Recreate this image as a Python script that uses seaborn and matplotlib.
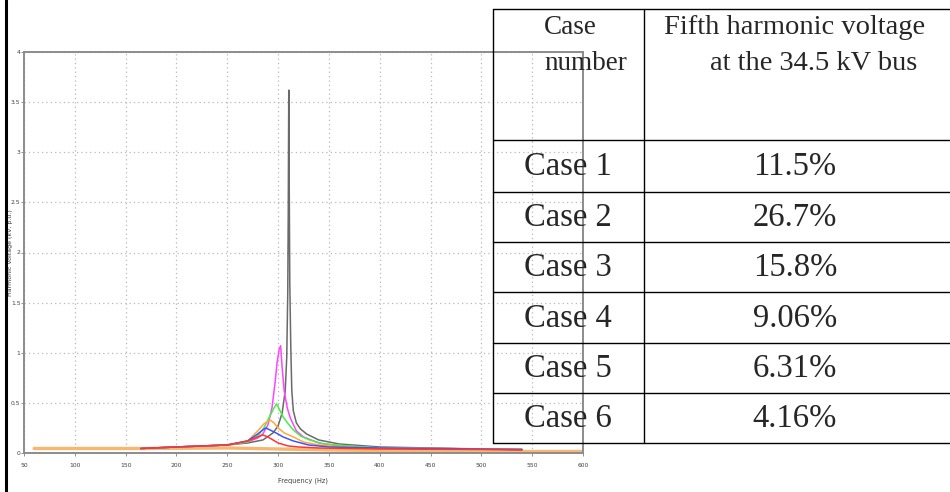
import numpy as np
import pandas as pd
import seaborn as sns
import matplotlib
matplotlib.use('Agg')
import matplotlib.pyplot as plt

# resonance curves (Hz, voltage)
gray_f = [165, 200, 250, 270, 285, 295, 300, 304, 307, 308.5, 309.5, 310, 310.5, 311, 311.5, 312.5, 313.5, 315, 318, 322, 328, 340, 360, 400, 450, 500, 540]
gray_v = [0.045, 0.06, 0.08, 0.10, 0.13, 0.20, 0.27, 0.40, 0.62, 0.95, 1.60, 2.40, 3.62, 2.60, 1.70, 1.05, 0.62, 0.42, 0.30, 0.24, 0.19, 0.13, 0.09, 0.06, 0.05, 0.04, 0.035]
magenta_f = [165, 200, 250, 270, 280, 285, 290, 294, 297, 299, 301, 302.5, 304, 306, 309, 312, 318, 325, 340, 360, 400, 500, 540]
magenta_v = [0.045, 0.06, 0.08, 0.11, 0.15, 0.19, 0.28, 0.45, 0.70, 0.90, 1.03, 1.07, 0.85, 0.62, 0.45, 0.35, 0.22, 0.16, 0.10, 0.07, 0.05, 0.04, 0.035]
green_f = [165, 200, 250, 270, 280, 286, 292, 296, 298.6, 301, 305, 310, 315, 322, 331, 345, 370, 400, 500, 540]
green_v = [0.045, 0.06, 0.08, 0.11, 0.17, 0.25, 0.37, 0.45, 0.49, 0.44, 0.36, 0.29, 0.23, 0.17, 0.13, 0.09, 0.07, 0.05, 0.04, 0.035]
orange_f = [165, 200, 250, 270, 280, 286, 292, 296, 300, 306, 315, 325, 340, 360, 400, 500, 540]
orange_v = [0.045, 0.06, 0.08, 0.12, 0.22, 0.29, 0.33, 0.30, 0.25, 0.20, 0.16, 0.11, 0.08, 0.06, 0.05, 0.04, 0.035]
blue_f = [165, 200, 250, 270, 280, 285, 288, 292, 298, 305, 315, 330, 350, 400, 500, 540]
blue_v = [0.045, 0.06, 0.08, 0.12, 0.19, 0.23, 0.25, 0.23, 0.20, 0.16, 0.12, 0.08, 0.06, 0.05, 0.04, 0.035]
red_f = [165, 200, 250, 270, 280, 285, 290, 295, 300, 310, 320, 340, 400, 500, 540]
red_v = [0.045, 0.06, 0.08, 0.12, 0.16, 0.18, 0.16, 0.13, 0.10, 0.07, 0.06, 0.05, 0.04, 0.035, 0.03]
base_f = [60, 165, 250, 350, 450, 540, 600]
base_v = [0.045, 0.045, 0.05, 0.03, 0.02, 0.015, 0.015]

# table contents
case_labels = ["Case 1", "Case 2", "Case 3", "Case 4", "Case 5", "Case 6"]
fifth_harmonic = ["11.5%", "26.7%", "15.8%", "9.06%", "6.31%", "4.16%"]

curves = {
    "gray": (gray_f, gray_v), "magenta": (magenta_f, magenta_v),
    "green": (green_f, green_v), "orange": (orange_f, orange_v),
    "blue": (blue_f, blue_v), "red": (red_f, red_v),
}
rows = []
for name, (f, v) in curves.items():
    for fi, vi in zip(f, v):
        rows.append({"curve": name, "freq": fi, "volt": vi})
df = pd.DataFrame(rows)
base_df = pd.DataFrame({"freq": base_f, "volt": base_v})

palette = {"gray": "#6a6a6a", "magenta": "#ff45ff", "green": "#45f045",
           "orange": "#ffa838", "blue": "#3a55ff", "red": "#ff3535"}

sns.set_style("white")
fig = plt.figure(figsize=(9.5, 4.92), dpi=100)
ax = fig.add_axes([24 / 950, 39 / 492, 559 / 950, 401 / 492])

sns.lineplot(data=base_df, x="freq", y="volt", color="#f6b870", linewidth=2.4,
             estimator=None, ax=ax)
sns.lineplot(data=df, x="freq", y="volt", hue="curve", palette=palette,
             estimator=None, linewidth=1.1, legend=False, ax=ax)

ax.set_xlim(50, 600)
ax.set_ylim(0, 4)
ax.set_xticks(np.arange(50, 601, 50))
ax.set_yticks(np.arange(0, 4.01, 0.5))
ax.set_xticklabels([str(t) for t in range(50, 601, 50)])
ax.set_yticklabels(["0", "0.5", "1", "1.5", "2", "2.5", "3", "3.5", "4"])
ax.tick_params(labelsize=4.3, labelcolor="#404040", length=2, width=0.6,
               color="#808080", bottom=True, left=True)
ax.tick_params(axis="x", pad=5)
ax.tick_params(axis="y", pad=0.5)
ax.grid(True, linestyle=(0, (1, 2.5)), color="#b8b8b8", linewidth=0.9)
for sp in ax.spines.values():
    sp.set_color("#8c8c8c")
    sp.set_linewidth(1.4)
ax.set_xlabel("Frequency (Hz)", fontsize=4.8, color="#404040", labelpad=7)
ax.set_ylabel("Harmonic Voltage (kV, p.u.)", fontsize=4.5, color="#404040")
ax.yaxis.set_label_coords(-10.5 / 559, 0.5)

# overlay in pixel coordinates for the page border and the table
ov = fig.add_axes([0, 0, 1, 1], facecolor="none")
ov.set_xlim(0, 950)
ov.set_ylim(492, 0)
ov.axis("off")
ov.plot([5.5, 5.5], [0, 492], color="black", linewidth=2.2)

lw = 1.0
tx0, tdiv, tx1 = 493, 644, 952
row_y = [9, 140, 192, 242, 292, 343, 393, 443]
ov.plot([tx0, tx0], [row_y[0], row_y[-1]], color="black", linewidth=lw)
ov.plot([tdiv, tdiv], [row_y[0], row_y[-1]], color="black", linewidth=lw)
for y in row_y:
    ov.plot([tx0, tx1], [y, y], color="black", linewidth=lw)

serif = ["Liberation Serif", "DejaVu Serif"]
ov.text(570, 28, "Case", fontsize=19.5, family=serif, ha="center", va="center")
ov.text(586, 63, "number", fontsize=19.5, family=serif, ha="center", va="center")
ov.text(795, 28, "Fifth harmonic voltage", fontsize=20.5, family=serif, ha="center", va="center")
ov.text(814, 63, "at the 34.5 kV bus", fontsize=20.5, family=serif, ha="center", va="center")
for i, (lab, val) in enumerate(zip(case_labels, fifth_harmonic)):
    yc = (row_y[i + 1] + row_y[i + 2]) / 2 + 1
    ov.text(568, yc, lab, fontsize=23.5, family=serif, ha="center", va="center")
    ov.text(795, yc, val, fontsize=23.5, family=serif, ha="center", va="center")

fig.savefig("out.png", dpi=100)
